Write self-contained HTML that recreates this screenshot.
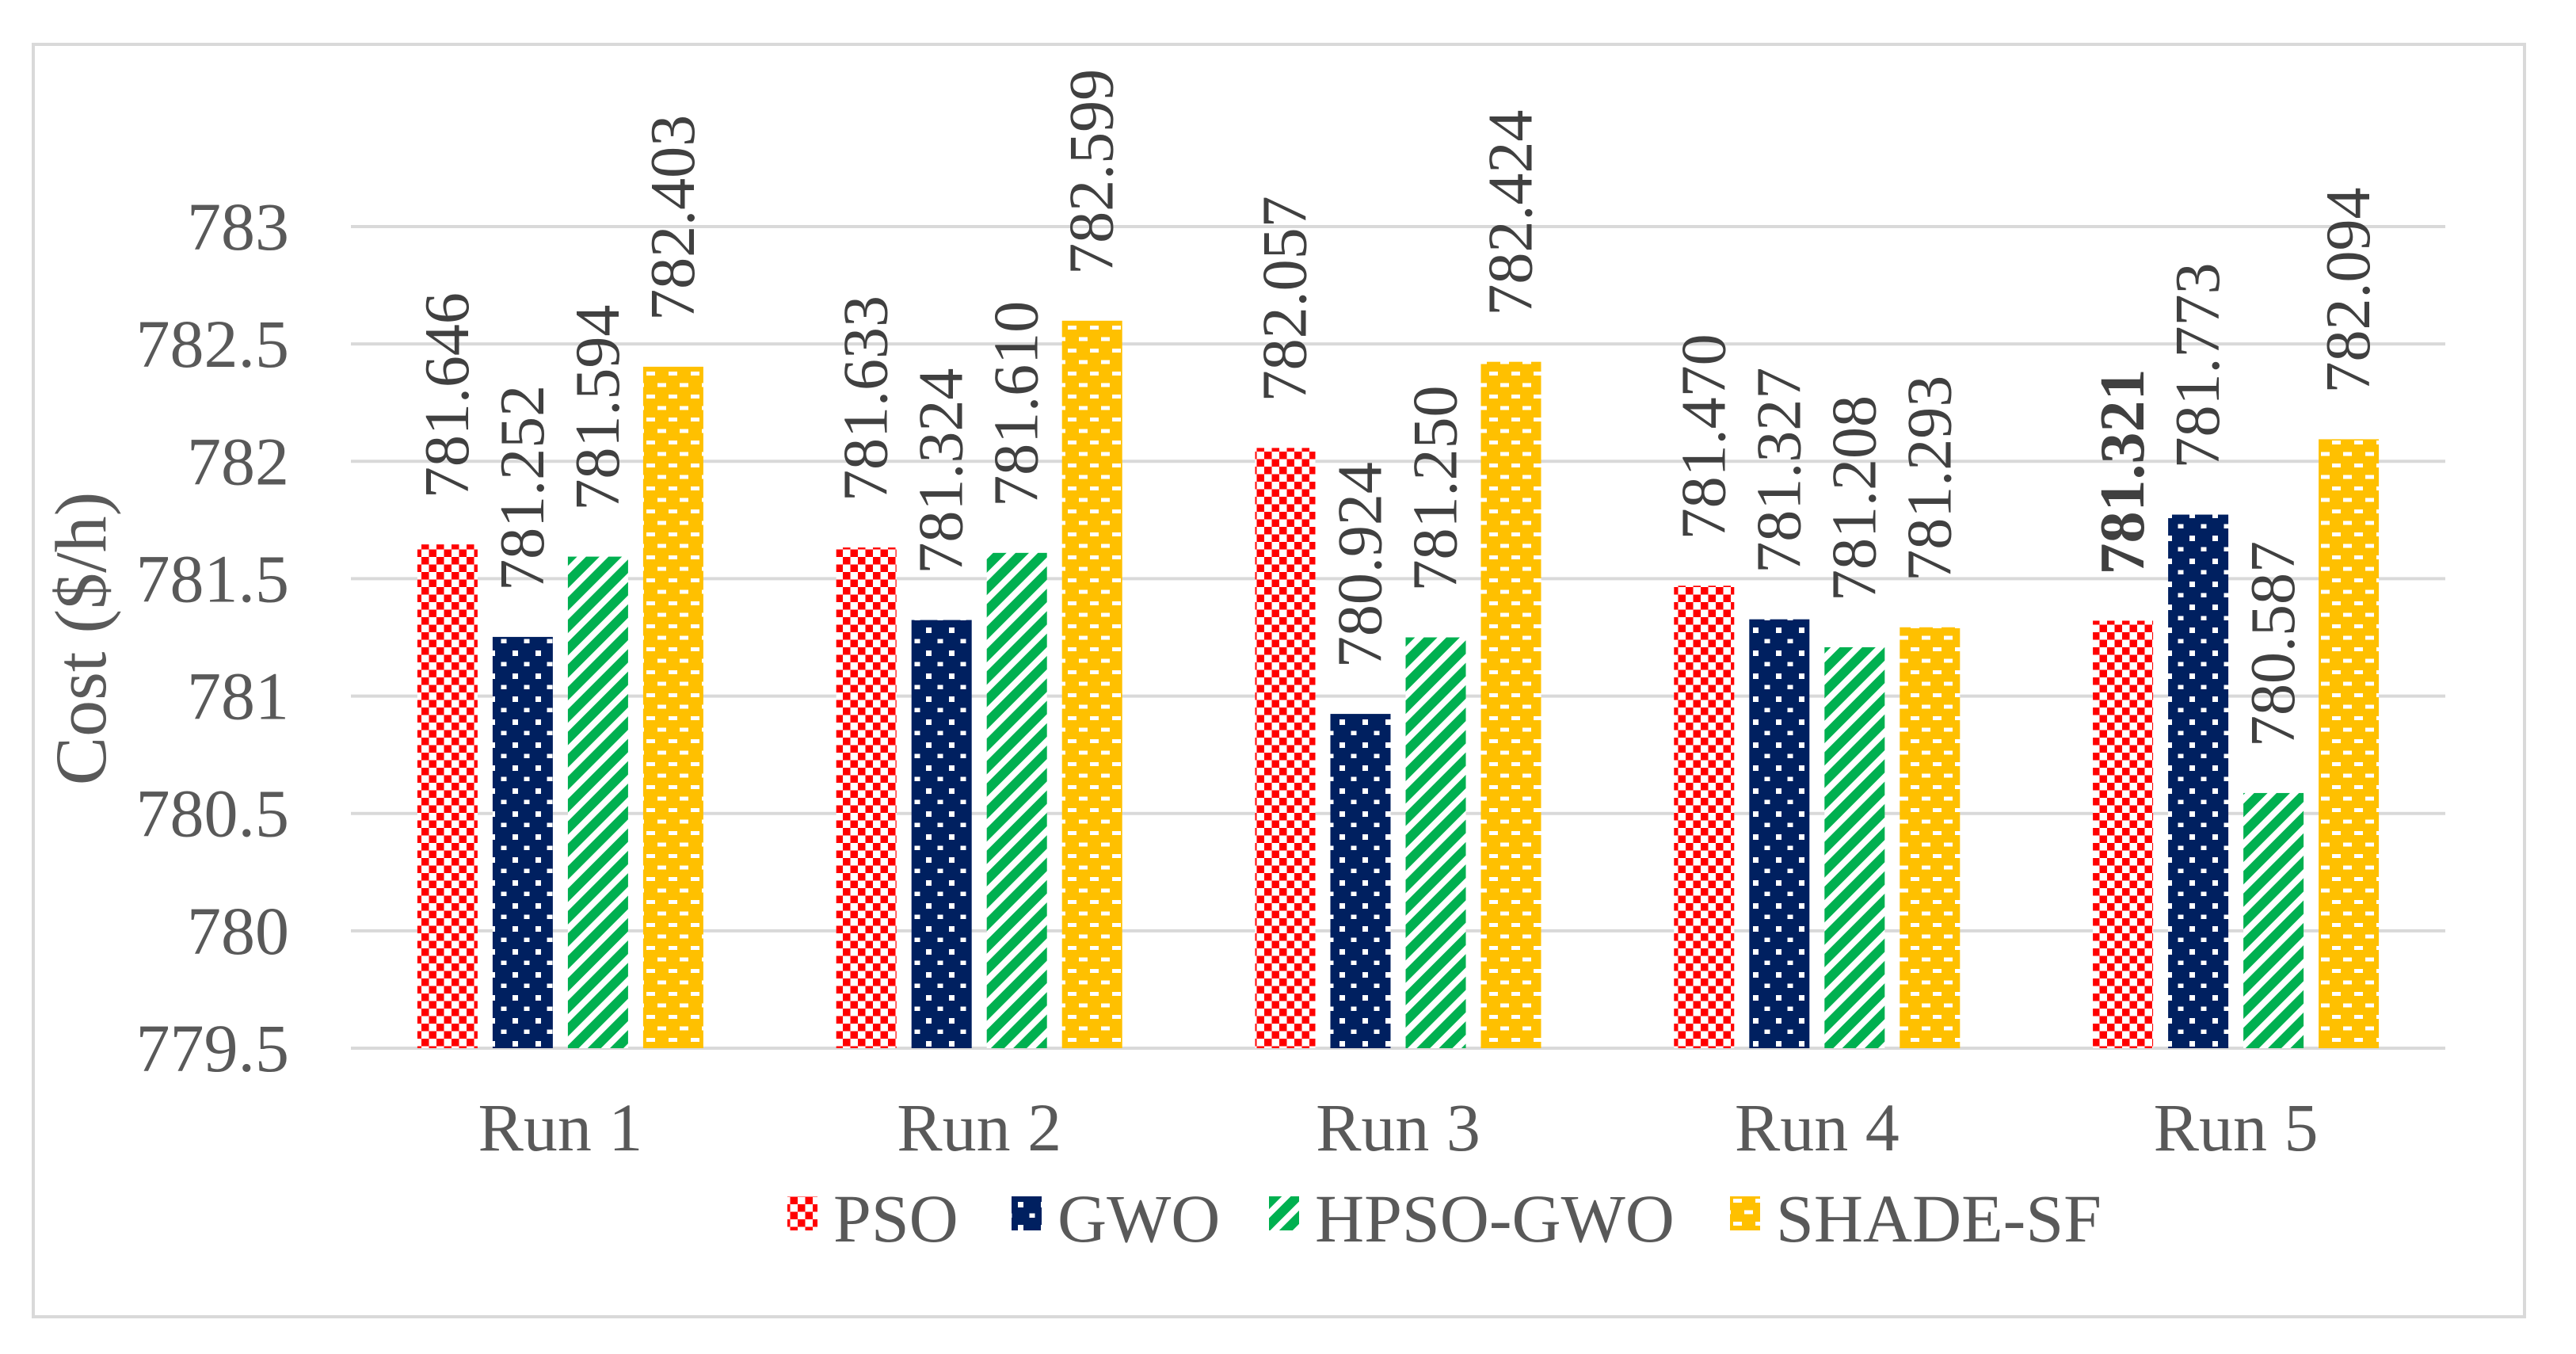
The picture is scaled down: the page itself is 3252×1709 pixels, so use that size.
<!DOCTYPE html>
<html><head><meta charset="utf-8"><style>
html,body{margin:0;padding:0;background:#fff;}
svg{display:block;}
text{font-family:"Liberation Serif",serif;}
</style></head><body>
<svg id="chart" width="3252" height="1709" viewBox="0 0 3252 1709">
<defs>
<pattern id="pChecker" width="19" height="19" patternUnits="userSpaceOnUse">
<rect width="19" height="19" fill="#fff"/><rect width="9.5" height="9.5" fill="#FF0000"/><rect x="9.5" y="9.5" width="9.5" height="9.5" fill="#FF0000"/>
</pattern>
<pattern id="pDots" width="29" height="29" patternUnits="userSpaceOnUse">
<rect width="29" height="29" fill="#002060"/><rect x="9" y="9" width="7" height="7" fill="#fff"/><rect x="23.5" y="23.5" width="7" height="7" fill="#fff"/><rect x="-5.5" y="23.5" width="7" height="7" fill="#fff"/>
</pattern>
<pattern id="pDiag" width="20" height="20" patternUnits="userSpaceOnUse" patternTransform="rotate(45)">
<rect width="20" height="20" fill="#fff"/><rect width="12" height="20" fill="#00B050"/>
</pattern>
<pattern id="pBrick" width="28" height="29" patternUnits="userSpaceOnUse">
<rect width="28" height="29" fill="#FFC000"/><rect x="4" y="5" width="11" height="5" fill="#fff"/><rect x="18" y="19.5" width="11" height="5" fill="#fff"/><rect x="-10" y="19.5" width="11" height="5" fill="#fff"/>
</pattern>
</defs>
<rect x="42" y="56" width="3145" height="1606" fill="#fff" stroke="#d9d9d9" stroke-width="4"/>
<g id="grid"></g>
<g id="bars"></g>
<g id="labels"></g>
<text x="112" y="806" font-size="92" fill="#595959" text-anchor="middle" transform="rotate(-90 112 806)" dominant-baseline="middle">Cost ($/h)</text>
<g id="legend"></g>
</svg>
<script>
const categories = ["Run 1","Run 2","Run 3","Run 4","Run 5"];
const seriesNames = ["PSO","GWO","HPSO-GWO","SHADE-SF"];
const psoValues = [781.646,781.633,782.057,781.470,781.321];
const gwoValues = [781.252,781.324,780.924,781.327,781.773];
const hpsoValues = [781.594,781.610,781.250,781.208,780.587];
const shadeValues = [782.403,782.599,782.424,781.293,782.094];
const yTicks = [779.5,780,780.5,781,781.5,782,782.5,783];
const valueLabels = [
 ["781.646","781.633","782.057","781.470","781.321"],
 ["781.252","781.324","780.924","781.327","781.773"],
 ["781.594","781.610","781.250","781.208","780.587"],
 ["782.403","782.599","782.424","781.293","782.094"]
];
const boldLabel = [[false,false,false,false,true],[false,false,false,false,false],[false,false,false,false,false],[false,false,false,false,false]];

const NS="http://www.w3.org/2000/svg";
const plotL=443, plotR=3087, yMin=779.5, yMax=783, yBot=1323, yTop=286;
const fills=["url(#pChecker)","url(#pDots)","url(#pDiag)","url(#pBrick)"];
const allSeries=[psoValues,gwoValues,hpsoValues,shadeValues];
function y(v){return yBot-(v-yMin)/(yMax-yMin)*(yBot-yTop);}
const bandW=(plotR-plotL)/categories.length;
function xBand(i){return plotL+bandW*i;}
const barW=76, barGap=19;
function mk(tag,attrs,parent){const e=document.createElementNS(NS,tag);for(const k in attrs)e.setAttribute(k,attrs[k]);parent.appendChild(e);return e;}
const grid=document.getElementById('grid'), bars=document.getElementById('bars'), labels=document.getElementById('labels'), legend=document.getElementById('legend');
yTicks.forEach(t=>{
 const l=mk('line',{x1:plotL,x2:plotR,y1:y(t),y2:y(t),stroke:'#d9d9d9','stroke-width':4},grid);
 
 
 const tx=mk('text',{x:365,y:y(t)+29,'font-size':86,fill:'#595959','text-anchor':'end'},grid);
 tx.textContent=String(t);
 
 
});
categories.forEach((c,i)=>{
 const cx=xBand(i)+bandW/2;
 const groupW=4*barW+3*barGap;
 allSeries.forEach((s,j)=>{
  const x=cx-groupW/2+j*(barW+barGap);
  const top=y(s[i]);
  const r=mk('rect',{x:x,y:top,width:barW,height:yBot-top,fill:fills[j]},bars);
  
  
  const lx=x+barW/2+26, ly=top-58;
  const t=mk('text',{x:lx,y:ly,'font-size':80,fill:'#404040',transform:'rotate(-90 '+lx+' '+ly+')'},labels);
  if(boldLabel[j][i])t.setAttribute('font-weight','bold');
  t.textContent=valueLabels[j][i];
  
  
 });
 const ct=mk('text',{x:cx,y:1452,'font-size':86,fill:'#595959','text-anchor':'middle'},labels);
 ct.textContent=c;
 
 
});
const legX=[994,1277,1602,2184];
seriesNames.forEach((n,j)=>{
 const g=mk('g',{},legend);
 
 
 mk('rect',{x:legX[j],y:1510,width:38,height:43,fill:fills[j]},g);
 const t=mk('text',{x:legX[j]+58,y:1567,'font-size':86,fill:'#595959'},g);
 t.textContent=n;
});
</script>
</body></html>
